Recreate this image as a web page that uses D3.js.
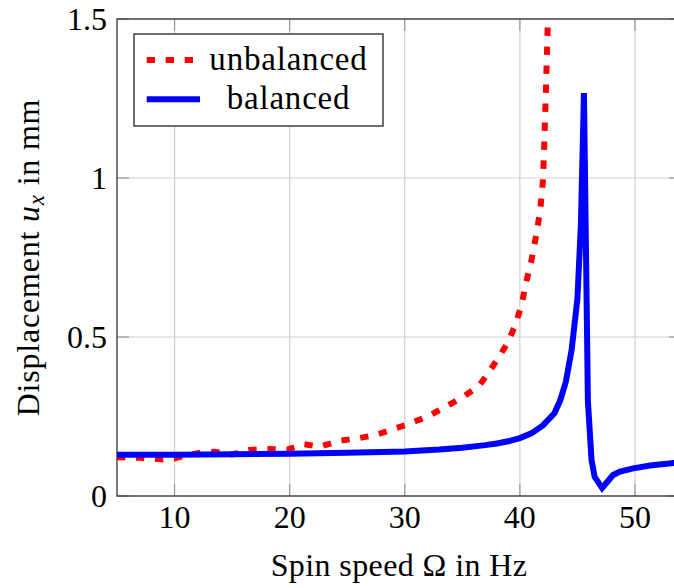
<!DOCTYPE html>
<html>
<head>
<meta charset="utf-8">
<script src="https://cdn.jsdelivr.net/npm/d3@7"></script>
<style>
  html, body { margin: 0; padding: 0; background: #fff; }
  svg { display: block; }
</style>
</head>
<body>
<svg id="chart" width="674" height="588" font-family="'Liberation Serif', 'DejaVu Serif', serif"></svg>
<script>
// ---- data ----
const seriesNames = ["unbalanced", "balanced"];
const unbalancedX = [5, 7, 9, 10, 11, 12.5, 13.5, 15, 16.5, 18, 19.8, 21.2, 22.6, 24.4, 26, 27.5, 29.3, 30, 32, 33, 34, 35, 36, 36.5, 37.25, 38.1, 39, 39.6, 40.15, 40.5, 41, 41.5, 41.8, 42, 42.1, 42.2, 42.3, 42.4, 42.45];
const unbalancedY = [0.122, 0.12, 0.115, 0.118, 0.128, 0.138, 0.139, 0.131, 0.145, 0.148, 0.146, 0.163, 0.155, 0.174, 0.182, 0.192, 0.214, 0.222, 0.25, 0.27, 0.29, 0.31, 0.335, 0.349, 0.386, 0.433, 0.485, 0.538, 0.6, 0.665, 0.74, 0.835, 0.91, 0.99, 1.08, 1.2, 1.32, 1.45, 1.55];
const balancedX = [5, 10, 15, 20, 25, 30, 33, 35, 37, 38, 39, 40, 41, 42, 43, 43.5, 44, 44.5, 45, 45.3, 45.57, 45.8, 45.91, 46.23, 46.5, 47.15, 47.5, 48.1, 48.7, 49.85, 51.3, 53.4, 55];
const balancedY = [0.130, 0.130, 0.131, 0.133, 0.136, 0.140, 0.146, 0.152, 0.160, 0.165, 0.172, 0.182, 0.197, 0.222, 0.26, 0.30, 0.36, 0.46, 0.62, 0.85, 1.267, 0.62, 0.30, 0.113, 0.06, 0.025, 0.04, 0.066, 0.077, 0.087, 0.096, 0.104, 0.108];
const xTicks = [10, 20, 30, 40, 50];
const xTickLabels = ["10", "20", "30", "40", "50"];
const yTicks = [0, 0.5, 1, 1.5];
const yTickLabels = ["0", "0.5", "1", "1.5"];

// ---- layout ----
const FONT = "Liberation Serif, DejaVu Serif, serif";
const svg = d3.select("#chart");
const pLeft = 117, pTop = 19, pBottom = 496;
const x = d3.scaleLinear().domain([5, 54]).range([pLeft, pLeft + 49 * 11.51]);
const y = d3.scaleLinear().domain([0, 1.5]).range([pBottom, pTop]);
const pRight = x.range()[1];

svg.append("defs").append("clipPath").attr("id", "clip")
  .append("rect").attr("x", pLeft).attr("y", pTop).attr("width", pRight - pLeft).attr("height", pBottom - pTop);

// grid
const grid = svg.append("g");
grid.selectAll(".gx").data(xTicks).enter().append("line")
  .attr("x1", d => x(d)).attr("x2", d => x(d)).attr("y1", pTop).attr("y2", pBottom)
  .attr("stroke", "#cfcfcf").attr("stroke-width", 1.2);
grid.selectAll(".gy").data(yTicks).enter().append("line")
  .attr("y1", d => y(d)).attr("y2", d => y(d)).attr("x1", pLeft).attr("x2", pRight)
  .attr("stroke", "#cfcfcf").attr("stroke-width", 1.2);

// tick marks (inside, all four sides)
const tl = 12, tc = "#9a9a9a";
const ticks = svg.append("g").attr("stroke", tc).attr("stroke-width", 1.2);
xTicks.forEach(d => {
  ticks.append("line").attr("x1", x(d)).attr("x2", x(d)).attr("y1", pBottom).attr("y2", pBottom - tl);
  ticks.append("line").attr("x1", x(d)).attr("x2", x(d)).attr("y1", pTop).attr("y2", pTop + tl);
});
yTicks.forEach(d => {
  ticks.append("line").attr("y1", y(d)).attr("y2", y(d)).attr("x1", pLeft).attr("x2", pLeft + tl);
  ticks.append("line").attr("y1", y(d)).attr("y2", y(d)).attr("x1", pRight).attr("x2", pRight - tl);
});

// axis frame
svg.append("rect").attr("x", pLeft).attr("y", pTop).attr("width", pRight - pLeft).attr("height", pBottom - pTop)
  .attr("fill", "none").attr("stroke", "#333").attr("stroke-width", 1.3);

// lines
const lineGen = d3.line().x(d => x(d[0])).y(d => y(d[1]));
const plot = svg.append("g").attr("clip-path", "url(#clip)");
plot.append("path").datum(unbalancedX.map((v, i) => [v, unbalancedY[i]]))
  .attr("d", lineGen).attr("fill", "none").attr("stroke", "#ff0000")
  .attr("stroke-width", 6).attr("stroke-dasharray", "8.3 10.7");
plot.append("path").datum(balancedX.map((v, i) => [v, balancedY[i]]))
  .attr("d", lineGen).attr("fill", "none").attr("stroke", "#0000ff")
  .attr("stroke-width", 6);

// tick labels
svg.append("g").selectAll("text").data(xTicks).enter().append("text")
  .attr("font-family", FONT)
  .attr("x", d => x(d)).attr("y", 528).attr("text-anchor", "middle")
  .attr("font-size", 32).text((d, i) => xTickLabels[i]);
svg.append("g").selectAll("text").data(yTicks).enter().append("text")
  .attr("font-family", FONT)
  .attr("x", 107).attr("y", d => y(d) + 11).attr("text-anchor", "end")
  .attr("font-size", 32).text((d, i) => yTickLabels[i]);

// axis labels
svg.append("text").attr("font-family", FONT).attr("x", 399).attr("y", 576).attr("text-anchor", "middle")
  .attr("font-size", 32).attr("letter-spacing", 0.4).text("Spin speed \u03A9 in Hz");
const yl = svg.append("text").attr("font-family", FONT)
  .attr("transform", `translate(39,${(pTop + pBottom) / 2}) rotate(-90)`)
  .attr("text-anchor", "middle").attr("font-size", 32).attr("letter-spacing", 0.8);
yl.append("tspan").text("Displacement ");
yl.append("tspan").attr("font-style", "italic").text("u");
yl.append("tspan").attr("font-style", "italic").attr("font-size", 23).attr("dy", 5).text("x");
yl.append("tspan").attr("dy", -5).text(" in mm");

// legend
const lg = svg.append("g");
lg.append("rect").attr("x", 134).attr("y", 34).attr("width", 249).attr("height", 92)
  .attr("fill", "#fff").attr("stroke", "#222").attr("stroke-width", 1.3);
const legendColors = ["#ff0000", "#0000ff"];
const legendDash = ["8.3 10.7", null];
const legendY = [60, 99.3];
seriesNames.forEach((name, i) => {
  lg.append("line").attr("x1", 146.7).attr("x2", 200).attr("y1", legendY[i]).attr("y2", legendY[i])
    .attr("stroke", legendColors[i]).attr("stroke-width", 6).attr("stroke-dasharray", legendDash[i]);
  lg.append("text").attr("font-family", FONT).attr("x", 288.5).attr("y", legendY[i] + 9.5)
    .attr("text-anchor", "middle").attr("letter-spacing", 0.8)
    .attr("font-size", 33).text(name);
});
</script>
</body>
</html>
